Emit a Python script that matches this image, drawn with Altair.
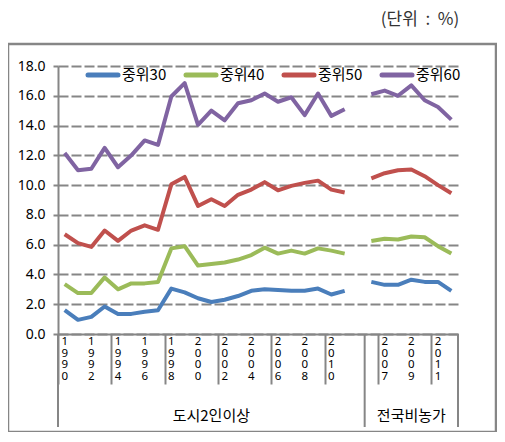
import altair as alt
import pandas as pd

# ---- data ----
years_city = list(range(1990, 2012))      # 도시2인이상
years_nat = list(range(2006, 2013))       # 전국비농가
group_names = ["도시2인이상", "전국비농가"]
series_names = ["중위30", "중위40", "중위50", "중위60"]
series_colors = ["#4A7EBB", "#9BBB59", "#C0504D", "#8064A2"]
y_ticks = [0, 2, 4, 6, 8, 10, 12, 14, 16, 18]
unit_text = "(단위\u00a0\u00a0:\u00a0\u00a0%)"

m30_city = [1.6, 0.95, 1.15, 1.85, 1.35, 1.35, 1.5, 1.6, 3.05, 2.8, 2.4, 2.15,
            2.3, 2.55, 2.9, 3.0, 2.95, 2.9, 2.9, 3.05, 2.65, 2.9]
m30_nat = [3.5, 3.3, 3.3, 3.65, 3.5, 3.5, 2.9]
m40_city = [3.35, 2.75, 2.75, 3.8, 3.0, 3.4, 3.4, 3.5, 5.75, 5.9, 4.6, 4.7,
            4.8, 5.0, 5.3, 5.8, 5.4, 5.6, 5.4, 5.75, 5.6, 5.4]
m40_nat = [6.25, 6.4, 6.35, 6.55, 6.5, 5.9, 5.4]
m50_city = [6.7, 6.1, 5.85, 6.95, 6.25, 6.95, 7.3, 7.0, 10.05, 10.55, 8.6, 9.05,
            8.6, 9.35, 9.7, 10.2, 9.65, 9.95, 10.15, 10.3, 9.7, 9.5]
m50_nat = [10.45, 10.8, 11.0, 11.05, 10.6, 10.0, 9.45]
m60_city = [12.15, 11.0, 11.1, 12.5, 11.2, 12.0, 13.0, 12.7, 15.95, 16.85, 14.05, 15.0,
            14.35, 15.5, 15.7, 16.15, 15.6, 15.9, 14.7, 16.15, 14.65, 15.1]
m60_nat = [16.1, 16.35, 16.0, 16.7, 15.7, 15.25, 14.4]

city_vals = [m30_city, m40_city, m50_city, m60_city]
nat_vals = [m30_nat, m40_nat, m50_nat, m60_nat]

# category slots: city years, one blank slot, national years
n_city = len(years_city)
nat_start = n_city + 1
n_total = nat_start + len(years_nat)

rows = []
for name, vc, vn in zip(series_names, city_vals, nat_vals):
    for i, v in enumerate(vc):
        rows.append({"series": name, "grp": group_names[0], "pos": i + 0.5, "val": v})
    for j, v in enumerate(vn):
        rows.append({"series": name, "grp": group_names[1], "pos": nat_start + j + 0.5, "val": v})
df = pd.DataFrame(rows)

lab_rows = []
for i, y in enumerate(years_city):
    if i % 2 == 0:
        lab_rows.append({"pos": i + 0.5, "lab": "\n".join(str(y))})
for j, y in enumerate(years_nat):
    if (nat_start + j) % 2 == 0:
        lab_rows.append({"pos": nat_start + j + 0.5, "lab": "\n".join(str(y))})
df_lab = pd.DataFrame(lab_rows)

df_sep = pd.DataFrame({"pos": [0, nat_start, n_total]})
df_grp = pd.DataFrame({"pos": [nat_start / 2, (nat_start + n_total) / 2],
                       "name": group_names})
df_unit = pd.DataFrame({"t": [unit_text]})
df_one = pd.DataFrame({"a": [0]})

W, H = 400, 268
GRAY = "#868686"
unit_px = W / n_total

# legend entries laid out along the top of the plot (in category units)
leg_start = 30 / unit_px
leg_step = 98 / unit_px
leg_len = 30 / unit_px
df_leg = pd.DataFrame({
    "series": series_names,
    "lx": [leg_start + k * leg_step for k in range(len(series_names))],
})
df_leg["lx2"] = df_leg["lx"] + leg_len
df_leg["tx"] = df_leg["lx2"] + 4 / unit_px

xscale = alt.Scale(domain=[0, n_total], nice=False, zero=False)
cscale = alt.Scale(domain=series_names, range=series_colors)

lines = alt.Chart(df).mark_line(strokeWidth=4, strokeJoin="round").encode(
    x=alt.X("pos:Q", scale=xscale,
            axis=alt.Axis(values=list(range(n_total + 1)), labels=False, tickSize=50,
                          tickColor=GRAY, tickWidth=2, domainColor=GRAY, domainWidth=2,
                          grid=False, title=None)),
    y=alt.Y("val:Q", scale=alt.Scale(domain=[0, 18], nice=False),
            axis=alt.Axis(values=y_ticks, format=".1f", labelFontSize=14, labelFont="Noto Sans",
                          labelColor="#000000", tickSize=5, tickColor=GRAY, tickWidth=2,
                          domainColor=GRAY, domainWidth=2, gridColor=GRAY, gridWidth=2,
                          gridDash=[10, 3], labelPadding=8, title=None)),
    color=alt.Color("series:N", scale=cscale, legend=None),
    detail="grp:N",
)

leg_sym = alt.Chart(df_leg).mark_rule(strokeWidth=5, strokeCap="round").encode(
    x=alt.X("lx:Q", scale=xscale), x2="lx2:Q", y=alt.value(9),
    color=alt.Color("series:N", scale=cscale, legend=None))

leg_txt = alt.Chart(df_leg).mark_text(
    align="left", baseline="middle", fontSize=15, font="Noto Sans CJK KR", color="#000000"
).encode(x=alt.X("tx:Q", scale=xscale), y=alt.value(9), text="series:N")

year_labels = alt.Chart(df_lab).mark_text(
    baseline="top", lineBreak="\n", fontSize=11.5, lineHeight=11.5, font="Noto Sans", color="#000000"
).encode(x=alt.X("pos:Q", scale=xscale), y=alt.value(H + 2), text="lab:N")

seps = alt.Chart(df_sep).mark_rule(color=GRAY, strokeWidth=2).encode(
    x=alt.X("pos:Q", scale=xscale), y=alt.value(H), y2=alt.value(H + 93))

grp_labels = alt.Chart(df_grp).mark_text(
    fontSize=15, font="Noto Sans CJK KR", color="#000000", baseline="middle"
).encode(x=alt.X("pos:Q", scale=xscale), y=alt.value(H + 82), text="name:N")

unit = alt.Chart(df_unit).mark_text(
    fontSize=17, font="Noto Sans CJK KR", color="#333333", baseline="middle", align="center"
).encode(x=alt.value(362), y=alt.value(-46), text="t:N")

frame = alt.Chart(df_one).mark_rect(fillOpacity=0, stroke=GRAY, strokeWidth=2.5).encode(
    x=alt.value(-50), x2=alt.value(438), y=alt.value(-22), y2=alt.value(366))

chart = alt.layer(frame, lines, leg_sym, leg_txt, year_labels, seps, grp_labels, unit).properties(
    width=W, height=H,
    autosize=alt.AutoSizeParams(type="none"),
    padding={"left": 50, "top": 58, "right": 39, "bottom": 98},
).configure_view(stroke=None)

chart.save("out.html", embed_options={"renderer": "svg", "actions": False})
